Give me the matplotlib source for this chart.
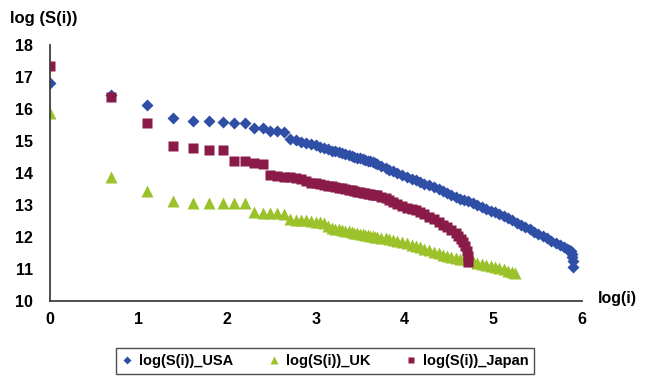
import numpy as np
import matplotlib.pyplot as plt

plt.rcParams['font.family'] = ['Liberation Sans', 'DejaVu Sans']

# rank i and log(S(i))
usa_rank = [1, 2, 3, 4, 5, 6, 7, 8, 9, 10, 11, 12, 13, 14,
            15, 16, 17, 18, 19, 20, 21, 22, 23, 24, 25, 26, 27, 28, 29, 30,
            31, 32, 33, 34, 35, 36, 37, 38, 39, 40, 42, 44, 46, 48, 50, 53,
            56, 59, 62, 65, 68, 72, 76, 80, 84, 88, 92, 97, 102, 107, 112,
            118, 124, 130, 137, 144, 151, 159, 167, 175, 184, 193, 203, 213,
            224, 235, 247, 259, 272, 286, 300, 315, 330, 342, 350, 355, 359,
            362, 364, 365]
usa_logS = [16.81, 16.45, 16.12, 15.72, 15.62, 15.62, 15.60, 15.56, 15.56,
            15.42, 15.40, 15.30, 15.30, 15.28,
            15.06, 15.03, 14.98, 14.93, 14.90, 14.86, 14.81, 14.77, 14.74,
            14.70, 14.68, 14.65, 14.62, 14.59, 14.56, 14.53, 14.50, 14.48,
            14.46, 14.43, 14.41, 14.39, 14.36, 14.33, 14.30, 14.27, 14.22,
            14.16, 14.10, 14.06, 14.00, 13.94, 13.88, 13.82, 13.77, 13.72,
            13.67, 13.61, 13.55, 13.49, 13.43, 13.37, 13.32, 13.26, 13.20,
            13.15, 13.11, 13.05, 13.00, 12.94, 12.88, 12.82, 12.77, 12.71,
            12.65, 12.59, 12.52, 12.45, 12.38, 12.31, 12.24, 12.17, 12.10,
            12.03, 11.96, 11.89, 11.82, 11.75, 11.68, 11.63, 11.60, 11.55,
            11.47, 11.38, 11.25, 11.06]

uk_rank = [1, 2, 3, 4, 5, 6, 7, 8, 9, 10, 11, 12, 13, 14,
           15, 16, 17, 18, 19, 20, 21, 22, 23, 24, 25, 26, 27, 28, 29, 30,
           31, 32, 33, 34, 35, 36, 37, 38, 39, 40, 42, 44, 46, 48, 50, 53,
           56, 59, 62, 65, 68, 72, 76, 80, 84, 88, 92, 97, 102, 107, 112,
           118, 124, 130, 137, 144, 151, 159, 167, 175, 184, 189]
uk_logS = [15.87, 13.87, 13.43, 13.12, 13.06, 13.06, 13.06, 13.06, 13.06,
           12.77, 12.75, 12.75, 12.74, 12.72,
           12.56, 12.54, 12.53, 12.52, 12.50, 12.48, 12.47, 12.44, 12.35,
           12.28, 12.26, 12.24, 12.22, 12.20, 12.18, 12.16, 12.14, 12.12,
           12.10, 12.08, 12.06, 12.05, 12.04, 12.02, 12.01, 12.00, 11.98,
           11.96, 11.94, 11.92, 11.88, 11.84, 11.80, 11.76, 11.72, 11.68,
           11.64, 11.59, 11.54, 11.49, 11.45, 11.41, 11.38, 11.35, 11.32,
           11.30, 11.28, 11.24, 11.20, 11.16, 11.12, 11.09, 11.06, 11.03,
           10.99, 10.95, 10.90, 10.87]

japan_rank = [1, 2, 3, 4, 5, 6, 7, 8, 9, 10, 11,
              12, 13, 14, 15, 16, 17, 18, 19, 20, 21, 22, 23, 24, 25, 26,
              27, 28, 29, 30, 31, 32, 33, 34, 35, 36, 37, 38, 39, 40, 42,
              44, 46, 48, 50, 53, 56, 59, 62, 65, 68, 72, 76, 80, 84, 88,
              92, 97, 100, 103, 106, 108, 110, 111, 112]
japan_logS = [17.34, 16.37, 15.56, 14.84, 14.78, 14.72, 14.72, 14.37, 14.37,
              14.30, 14.28,
              13.94, 13.92, 13.88, 13.86, 13.84, 13.80, 13.76, 13.70, 13.68,
              13.65, 13.62, 13.60, 13.58, 13.56, 13.54, 13.52, 13.50, 13.48,
              13.46, 13.44, 13.42, 13.40, 13.38, 13.36, 13.35, 13.33, 13.31,
              13.30, 13.30, 13.26, 13.21, 13.15, 13.09, 13.04, 12.97, 12.92,
              12.87, 12.83, 12.78, 12.72, 12.64, 12.56, 12.47, 12.38, 12.30,
              12.22, 12.12, 12.04, 11.95, 11.84, 11.72, 11.56, 11.42, 11.22]

fig = plt.figure(figsize=(6.5, 3.78), dpi=100)
ax = fig.add_axes([50 / 650, 1 - 301 / 378, 532 / 650, 256 / 378])

ax.plot(np.log(usa_rank), usa_logS, ls='none', marker='D', ms=6.5,
        color='#2f4fa6', mec='none', label='log(S(i))_USA')
ax.plot(np.log(uk_rank), uk_logS, ls='none', marker='^', ms=8.5,
        color='#9bc22a', mec='none', label='log(S(i))_UK')
ax.plot(np.log(japan_rank), japan_logS, ls='none', marker='s', ms=7,
        color='#8a1a48', mec='none', label='log(S(i))_Japan')

ax.set_xlim(0, 6)
ax.set_ylim(10, 18)
ax.set_xticks(range(0, 7))
ax.set_yticks(range(10, 19))
ax.tick_params(length=0, labelsize=11.5)
ax.tick_params(axis='x', pad=8)
ax.tick_params(axis='y', pad=12)
for lab in ax.get_xticklabels() + ax.get_yticklabels():
    lab.set_fontweight('bold')
for s in ['top', 'right']:
    ax.spines[s].set_visible(False)
for s in ['left', 'bottom']:
    ax.spines[s].set_color('#404040')
    ax.spines[s].set_linewidth(1.3)

fig.text(10 / 650, 1 - 18 / 378, 'log (S(i))', fontsize=12, fontweight='bold',
         va='center', ha='left')
fig.text(598 / 650, 1 - 298 / 378, 'log(i)', fontsize=11.5, fontweight='bold',
         va='center', ha='left')

leg = fig.legend(loc='center', bbox_to_anchor=(325 / 650, 1 - 361 / 378), ncol=3,
                 frameon=True, fancybox=False, markerscale=0.7,
                 handlelength=0.8, handletextpad=0.4, columnspacing=2.4,
                 borderpad=0.4, prop={'weight': 'bold', 'size': 10.5})
leg.get_frame().set_edgecolor('#202020')
leg.get_frame().set_linewidth(1.0)

fig.savefig('out.png', dpi=100)
